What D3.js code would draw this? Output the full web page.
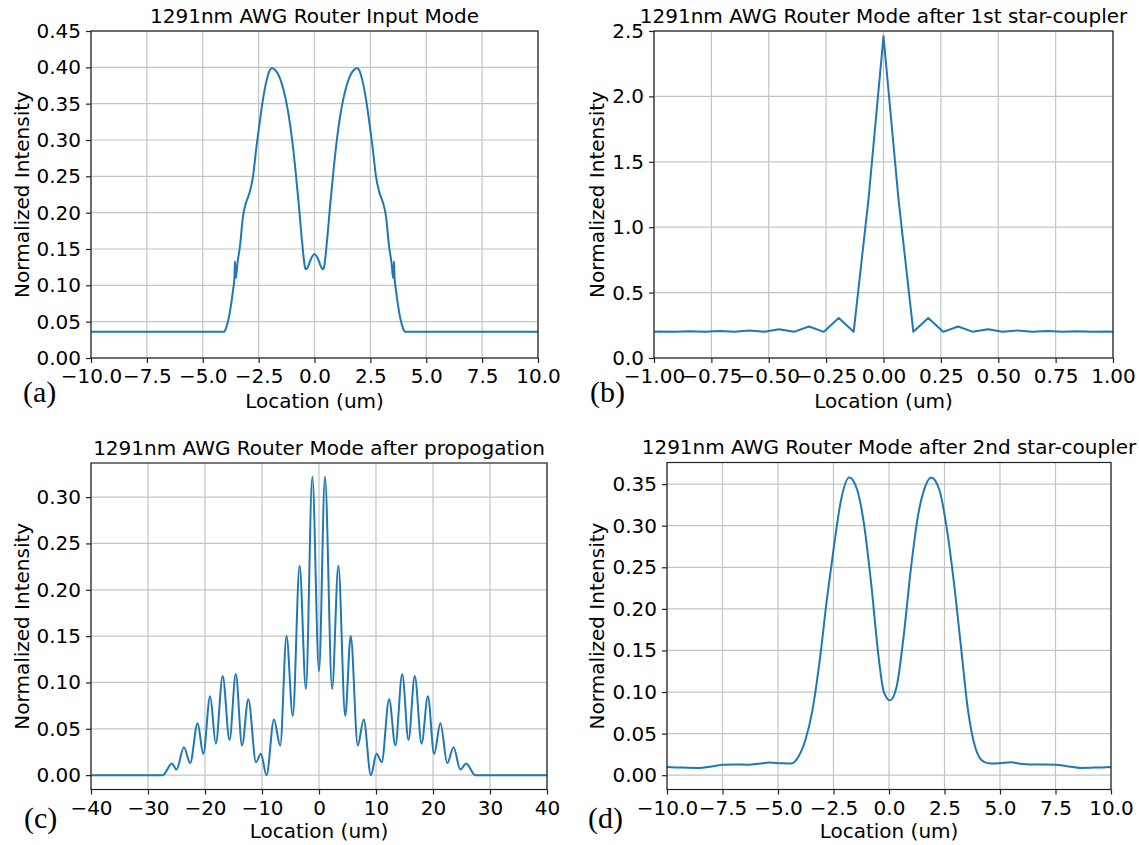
<!DOCTYPE html>
<html>
<head>
<meta charset="utf-8">
<script src="https://cdn.jsdelivr.net/npm/d3@7"></script>
<style>
  body { margin: 0; background: #fff; }
  text { fill: #000; }
</style>
</head>
<body>
<svg id="fig" width="1139" height="845"></svg>
<script>
// ---- data ----
// (a) input mode
let aX = [-10, -4.05, -3.95, -3.85, -3.75, -3.65, -3.58, -3.56, -3.52, -3.45, -3.33, -3.2, -3.05, -2.9, -2.75, -2.6, -2.45, -2.3, -2.15, -2.0, -1.9, -1.75, -1.6, -1.45, -1.3, -1.15, -1.0, -0.85, -0.7, -0.55, -0.42, -0.38, -0.3, -0.15, 0,
  0.15, 0.3, 0.38, 0.42, 0.55, 0.7, 0.85, 1.0, 1.15, 1.3, 1.45, 1.6, 1.75, 1.9, 2.0, 2.15, 2.3, 2.45, 2.6, 2.75, 2.9, 3.05, 3.2, 3.33, 3.45, 3.52, 3.56, 3.58, 3.65, 3.75, 3.85, 3.95, 4.05, 10];
let aY = [0.036, 0.036, 0.042, 0.053, 0.070, 0.092, 0.112, 0.133, 0.110, 0.130, 0.155, 0.195, 0.215, 0.228, 0.250, 0.290, 0.325, 0.357, 0.381, 0.396, 0.399, 0.396, 0.389, 0.376, 0.358, 0.333, 0.300, 0.258, 0.210, 0.158, 0.124, 0.122, 0.125, 0.137, 0.143,
  0.137, 0.125, 0.122, 0.124, 0.158, 0.210, 0.258, 0.300, 0.333, 0.358, 0.376, 0.389, 0.396, 0.399, 0.396, 0.381, 0.357, 0.325, 0.290, 0.250, 0.228, 0.215, 0.195, 0.155, 0.130, 0.110, 0.133, 0.112, 0.092, 0.070, 0.053, 0.042, 0.036, 0.036];

// (b) after 1st star-coupler (coarse samples, straight segments)
let bX = [-1.0, -0.974, -0.909, -0.844, -0.779, -0.714, -0.649, -0.584, -0.519, -0.455, -0.390, -0.325, -0.260, -0.195, -0.130, -0.065, 0,
  0.065, 0.130, 0.195, 0.260, 0.325, 0.390, 0.455, 0.519, 0.584, 0.649, 0.714, 0.779, 0.844, 0.909, 0.974, 1.0];
let bY = [0.201, 0.203, 0.200, 0.205, 0.200, 0.207, 0.200, 0.211, 0.200, 0.220, 0.200, 0.241, 0.200, 0.305, 0.200, 1.22, 2.46,
  1.22, 0.200, 0.305, 0.200, 0.241, 0.200, 0.220, 0.200, 0.211, 0.200, 0.207, 0.200, 0.205, 0.200, 0.203, 0.201];

// (c) after propagation
let cX = [-40, -27.4, -25.8, -25.0, -23.7, -22.6, -21.3, -20.3, -19.1, -18.1, -16.9, -15.7, -14.6, -13.5, -12.4, -11.05, -10.2, -9.2, -7.9, -6.8, -5.7, -4.6, -3.4, -2.3, -1.17, 0,
  1.05, 2.3, 3.4, 4.6, 5.56, 6.8, 7.84, 9.1, 10.1, 11.0, 12.3, 13.4, 14.6, 15.7, 16.8, 18.0, 19.1, 20.2, 21.3, 22.5, 23.6, 24.8, 25.8, 27.4, 40];
let cY = [0, 0, 0.0126, 0.006, 0.030, 0.013, 0.056, 0.023, 0.085, 0.034, 0.107, 0.038, 0.109, 0.032, 0.082, 0.014, 0.023, 0.0, 0.060, 0.032, 0.150, 0.064, 0.226, 0.093, 0.322, 0.112,
  0.322, 0.093, 0.226, 0.064, 0.150, 0.032, 0.060, 0.0, 0.023, 0.014, 0.082, 0.032, 0.109, 0.038, 0.107, 0.034, 0.085, 0.023, 0.056, 0.013, 0.030, 0.006, 0.0126, 0, 0];

// (d) after 2nd star-coupler
let dX = [-10, -9.3, -8.6, -8.0, -7.47, -6.9, -6.34, -5.8, -5.38, -4.9, -4.41, -4.09, -3.77, -3.45, -3.12, -2.80, -2.48, -2.16, -1.79, -1.43, -1.11, -0.79, -0.47, -0.23, 0.05,
  0.34, 0.66, 0.98, 1.30, 1.63, 1.90, 2.27, 2.59, 2.91, 3.24, 3.56, 3.88, 4.28, 4.6, 5.0, 5.49, 6.0, 6.38, 7.0, 7.5, 8.1, 8.63, 9.3, 10];
let dY = [0.0100, 0.0092, 0.0088, 0.0105, 0.0125, 0.0130, 0.0125, 0.0140, 0.0152, 0.0145, 0.0140, 0.022, 0.042, 0.078, 0.138, 0.211, 0.275, 0.331, 0.358, 0.343, 0.299, 0.227, 0.1425, 0.100, 0.090,
  0.106, 0.167, 0.247, 0.311, 0.347, 0.358, 0.343, 0.299, 0.235, 0.155, 0.078, 0.034, 0.016, 0.014, 0.0145, 0.0155, 0.0135, 0.013, 0.013, 0.0125, 0.0105, 0.0088, 0.0092, 0.0100];

// tick values
let tenTicks = [-10, -7.5, -5, -2.5, 0, 2.5, 5, 7.5, 10];
let oneTicks = [-1, -0.75, -0.5, -0.25, 0, 0.25, 0.5, 0.75, 1];
let fortyTicks = [-40, -30, -20, -10, 0, 10, 20, 30, 40];
let aYTicks = [0, 0.05, 0.1, 0.15, 0.2, 0.25, 0.3, 0.35, 0.4, 0.45];
let bYTicks = [0, 0.5, 1, 1.5, 2, 2.5];
let cYTicks = [0, 0.05, 0.1, 0.15, 0.2, 0.25, 0.3];
let dYTicks = [0, 0.05, 0.1, 0.15, 0.2, 0.25, 0.3, 0.35];

let titles = [
  "1291nm AWG Router Input Mode",
  "1291nm AWG Router Mode after 1st star-coupler",
  "1291nm AWG Router Mode after propogation",
  "1291nm AWG Router Mode after 2nd star-coupler"
];
let letters = ["(a)", "(b)", "(c)", "(d)"];

let sans = "'DejaVu Sans', sans-serif";
let svg = d3.select("#fig");
svg.append("rect").attr("width", 1139).attr("height", 845).attr("fill", "#fff");

let panels = [
  { xs: aX, ys: aY, box: [91, 538, 31, 358], xd: [-10, 10], yd: [0, 0.45], xt: tenTicks, yt: aYTicks, xf: ".1f", yf: ".2f", curve: d3.curveMonotoneX, ylab: 22, let: [23, 402], xlab: 408 },
  { xs: bX, ys: bY, box: [654, 1113, 31, 358], xd: [-1, 1], yd: [0, 2.5], xt: oneTicks, yt: bYTicks, xf: ".2f", yf: ".1f", curve: d3.curveLinear, ylab: 597, let: [590, 402], xlab: 408 },
  { xs: cX, ys: cY, box: [91, 547, 463, 789.5], xd: [-40, 40], yd: [-0.0155, 0.3368], xt: fortyTicks, yt: cYTicks, xf: "d", yf: ".2f", curve: d3.curveMonotoneX, ylab: 22, let: [24, 828], xlab: 838 },
  { xs: dX, ys: dY, box: [667, 1111, 462.5, 789.5], xd: [-10, 10], yd: [-0.0172, 0.376], xt: tenTicks, yt: dYTicks, xf: ".1f", yf: ".2f", curve: d3.curveMonotoneX, ylab: 597, let: [588, 828], xlab: 838 }
];

panels.forEach(function (p, i) {
  let [l, r, t, b] = p.box;
  let x = d3.scaleLinear().domain(p.xd).range([l, r]);
  let y = d3.scaleLinear().domain(p.yd).range([b, t]);
  let g = svg.append("g");

  // grid
  g.append("g").selectAll("line").data(p.xt).join("line")
    .attr("x1", d => x(d)).attr("x2", d => x(d)).attr("y1", t).attr("y2", b)
    .attr("stroke", "#c4c4c4").attr("stroke-width", 1.2);
  g.append("g").selectAll("line").data(p.yt).join("line")
    .attr("y1", d => y(d)).attr("y2", d => y(d)).attr("x1", l).attr("x2", r)
    .attr("stroke", "#c4c4c4").attr("stroke-width", 1.2);

  // curve
  let clipId = "clip" + i;
  g.append("clipPath").attr("id", clipId).append("rect")
    .attr("x", l).attr("y", t).attr("width", r - l).attr("height", b - t);
  let pts = p.xs.map((v, k) => [v, p.ys[k]]);
  g.append("path").datum(pts)
    .attr("clip-path", `url(#${clipId})`)
    .attr("fill", "none").attr("stroke", "#1f77b4").attr("stroke-width", 2)
    .attr("stroke-linejoin", "round")
    .attr("d", d3.line().x(d => x(d[0])).y(d => y(d[1])).curve(p.curve));

  // axes
  let xAxis = g.append("g").attr("transform", `translate(0,${b})`)
    .call(d3.axisBottom(x).tickValues(p.xt).tickFormat(d3.format(p.xf)).tickSize(5).tickPadding(6));
  let yAxis = g.append("g").attr("transform", `translate(${l},0)`)
    .call(d3.axisLeft(y).tickValues(p.yt).tickFormat(d3.format(p.yf)).tickSize(5).tickPadding(5));
  [xAxis, yAxis].forEach(a => {
    a.select(".domain").remove();
    a.selectAll("text").attr("font-size", 20).attr("font-family", sans).attr("fill", "#000");
    a.selectAll("line").attr("stroke", "#222").attr("stroke-width", 1.2);
  });

  // frame
  g.append("rect").attr("x", l).attr("y", t).attr("width", r - l).attr("height", b - t)
    .attr("fill", "none").attr("stroke", "#222").attr("stroke-width", 1.2);

  // texts
  g.append("text").attr("x", (l + r) / 2).attr("y", t - 8.5)
    .attr("text-anchor", "middle").attr("font-family", sans).attr("font-size", 20).text(titles[i]);
  g.append("text").attr("x", (l + r) / 2).attr("y", p.xlab)
    .attr("text-anchor", "middle").attr("font-family", sans).attr("font-size", 20).text("Location (um)");
  g.append("text").attr("transform", `translate(${p.ylab},${(t + b) / 2}) rotate(-90)`)
    .attr("text-anchor", "middle").attr("dominant-baseline", "central")
    .attr("font-family", sans).attr("font-size", 20).text("Normalized Intensity");
  g.append("text").attr("x", p.let[0]).attr("y", p.let[1])
    .attr("font-family", "'Liberation Serif', serif").attr("font-size", 30).text(letters[i]);
});
</script>
</body>
</html>
